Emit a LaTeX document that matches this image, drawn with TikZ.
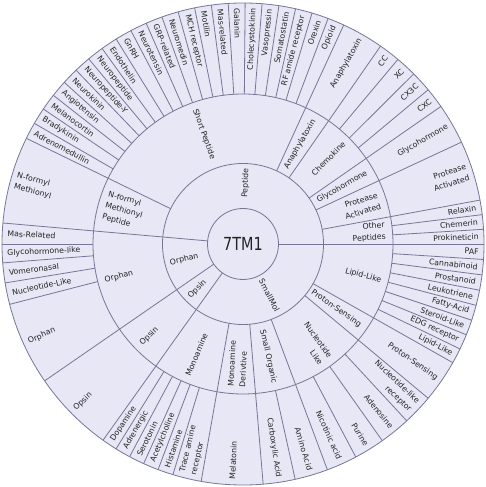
\documentclass[tikz,border=0pt]{standalone}
\usepackage{fontspec}
\setmainfont{DejaVu Sans}
\usepackage{tikz}

\definecolor{ringfill}{RGB}{231,231,246}
\definecolor{ringline}{RGB}{118,118,150}
\definecolor{labtext}{RGB}{35,35,35}

% label in a ring: name, angle, outer radius (pt), text
\newcommand{\ringlabel}[4]{%
  \pgfmathsetmacro{\laba}{#2}%
  \pgfmathsetmacro{\labcos}{cos(\laba)}%
  \ifdim\labcos pt<0pt
    \node[lbl, rotate=\laba-180, anchor=west, align=left] (#1) at (\laba:#3pt) {#4};
  \else
    \node[lbl, rotate=\laba, anchor=east, align=right] (#1) at (\laba:#3pt) {#4};
  \fi}

\begin{document}
\begin{tikzpicture}[
    x=1pt, y=1pt,
    sep/.style={draw=ringline, line width=0.8pt},
    lbl/.style={font=\fontsize{7.8}{11.5}\selectfont, text=labtext, inner sep=0pt},
    hub/.style={font=\fontsize{18}{18}\selectfont, text=labtext}
  ]
  \useasboundingbox (-243,-243) rectangle (243,244);
  \fill[ringfill] (0,0) circle[radius=241pt];

  % rings
  \foreach \r in {35.5,80.5,150,241}
    \draw[sep] (0,0) circle[radius=\r pt];

  % borders of the main classes
  \foreach \a in {0,175,214.6,234.5}
    \draw[sep] (\a:35.5pt) -- (\a:241pt);
  % borders of the families
  \foreach \a in {10.5,25,34.8,55.2,65.3,154,260,274.8,290.5,320.2,330.5}
    \draw[sep] (\a:80.5pt) -- (\a:241pt);
  % borders of the receptors
  \foreach \a in {3.5,7,39.8,44.9,50,180,184.5,189.3,194.5,282.5,297.9,305.3,312.8}
    \draw[sep] (\a:150pt) -- (\a:241pt);
  \foreach \k in {1,...,21}
    \draw[sep] ({65.3+\k*4.0318}:150pt) -- ({65.3+\k*4.0318}:241pt);
  \foreach \k in {1,...,5}
    \draw[sep] ({234.5+\k*3.72}:150pt) -- ({234.5+\k*3.72}:241pt);
  \foreach \k in {1,...,7}
    \draw[sep] ({330.5+\k*3.6875}:150pt) -- ({330.5+\k*3.6875}:241pt);

  % centre
  \node[hub] (hub) at (0,0) {\scalebox{0.8}[1]{7TM1}};

  % main classes
  \foreach \a/\t [count=\k] in {87.5/Peptide,194.8/Orphan,224.55/Opsin,297.25/SmallMol}
    \ringlabel{cls\k}{\a}{75.5}{\t};

  % families
  \foreach \a/\t [count=\k] in {29.9/Glycohormone,45/Chemokine,60.25/Anaphylatoxin,
      109.65/Short Peptide,194.8/Orphan,224.55/Opsin,247.25/Monoamine,
      282.65/Small Organic,325.35/Proton-Sensing,345.25/Lipid-Like}
    \ringlabel{fam\k}{\a}{143}{\t};
  \ringlabel{famother}{5.25}{143}{Other\\Peptides}
  \ringlabel{famprot}{17.75}{143}{Protease\\Activated}
  \ringlabel{famfmp}{164.5}{143}{N-formyl\\Methionyl\\Peptide}
  \ringlabel{famderiv}{267.4}{143}{Monoamine\\Derivtive}
  \ringlabel{famnucl}{305.35}{143}{Nucleotide\\Like}

  % receptors
  \foreach \a/\t [count=\k] in {1.75/Prokineticin,5.25/Chemerin,8.75/Relaxin,
      29.9/Glycohormone,37.3/CXC,42.35/CX3C,47.45/XC,52.6/CC,60.25/Anaphylatoxin,
      177.5/Mas-Related,182.25/Glycohormone-like,186.9/Vomeronasal,
      191.9/Nucleotide-Like,204.55/Orphan,224.55/Opsin,
      267.4/Melatonin,278.65/Carboxylic Acid,286.5/Amino Acid,
      294.2/Nicotinic acid,301.6/Purine,309.05/Adenosine,325.35/Proton-Sensing}
    \ringlabel{rec\k}{\a}{236}{\t};
  \foreach \t [count=\k] in {Opioid,Orexin,RF amide receptor,Somatostatin,
      Vasopressin,Cholecystokinin,Galanin,Mas-related,Motilin,MCH receptor,
      Neuromedin,GRP-related,Neurotensin,GnRH,Endothelin,Neuropeptide,
      Neuropeptide-Y,Neurokinin,Angiotensin,Melanocortin,Bradykinin,Adrenomedullin}
    \ringlabel{pep\k}{65.3+(\k-0.5)*4.0318}{236}{\t};
  \foreach \t [count=\k] in {Dopamine,Adrenergic,Serotonin,Acetylcholine,Histamine}
    \ringlabel{mono\k}{234.5+(\k-0.5)*3.72}{236}{\t};
  \foreach \t [count=\k] in {Lipid-Like,EDG receptor,Steroid-Like,Fatty-Acid,
      Leukotriene,Prostanoid,Cannabinoid,PAF}
    \ringlabel{lip\k}{330.5+(\k-0.5)*3.6875}{236}{\t};
  \ringlabel{recprot}{17.75}{236}{Protease\\Activated}
  \ringlabel{recfm}{164.5}{236}{N-formyl\\Methionyl}
  \ringlabel{rectrace}{256.55}{236}{Trace amine\\receptor}
  \ringlabel{recnucl}{316.5}{236}{Nucleotide-like\\receptor}
\end{tikzpicture}
\end{document}
